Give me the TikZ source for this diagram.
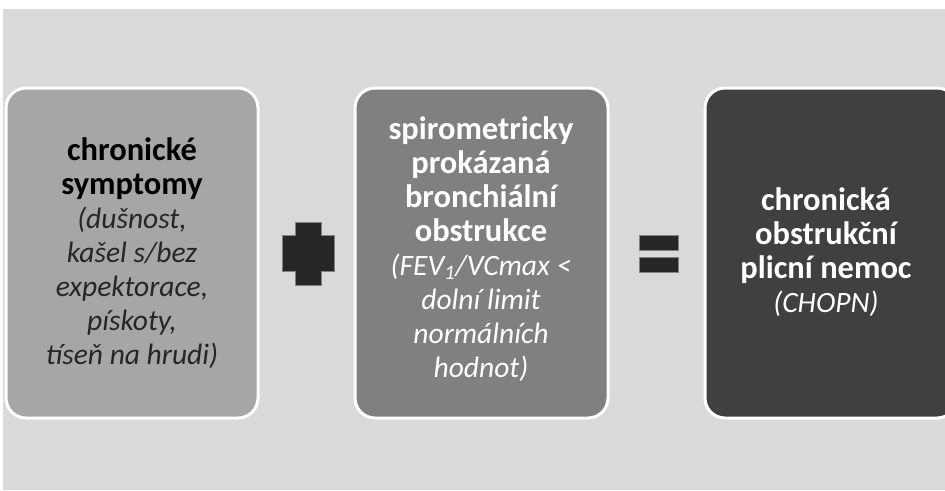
\documentclass[tikz,border=0pt]{standalone}
\usepackage{fontspec}
\setmainfont{Carlito}
\usetikzlibrary{positioning}
\definecolor{slidegray}{HTML}{D9D9D9}
\definecolor{lightcard}{HTML}{A6A6A6}
\definecolor{midcard}{HTML}{808080}
\definecolor{darkcard}{HTML}{404040}
\definecolor{signgray}{HTML}{262626}
\newcommand{\headln}[1]{{\fontsize{32.5}{34}\selectfont\bfseries #1}}
\newcommand{\noteln}[1]{{\fontsize{29.5}{34}\selectfont\itshape #1}}
\tikzset{
  card/.style={rounded corners=20pt, draw=white, line width=3pt},
  sign/.style={fill=signgray, draw=black!50, line width=0.6pt},
  cardtext/.style={align=center, anchor=base, inner sep=0pt,
    font=\fontsize{32}{34}\selectfont}
}

\begin{document}
\begin{tikzpicture}[x=1pt,y=-1pt]
		%%%%% START %%%%%
		\useasboundingbox (0,0) rectangle (945,490);
		\fill[white] (0,0) rectangle (945,490);
		\fill[slidegray] (3,9) rectangle (945,490);
		
		% the three cards
		\draw[card, fill=lightcard] (6,88) rectangle (258,418);
		\draw[card, fill=midcard] (355,88) rectangle (608,418);
		\draw[card, fill=darkcard] (705,88) rectangle (957,418);
		
		% anchor=base sits on the last line
		\node[cardtext, text=black] (symptoms) at (132,364)
			{\headln{chronické}\\\headln{symptomy}\\
			\noteln{\color{black!85}(dušnost,}\\\noteln{\color{black!85}kašel s/bez}\\
			\noteln{\color{black!85}expektorace,}\\\noteln{\color{black!85}pískoty,}\\
			\noteln{\color{black!85}tíseň na hrudi)}};
		
		\node[cardtext, text=white] (obstruction) at (481,377)
			{\headln{spirometricky}\\\headln{prokázaná}\\\headln{bronchiální}\\
			\headln{obstrukce}\\\noteln{(FEV\textsubscript{1}/VCmax <}\\
			\noteln{dolní limit}\\\noteln{normálních}\\\noteln{hodnot)}};
		
		\node[cardtext, text=white] (copd) at (826,312)
			{\headln{chronická}\\\headln{obstrukční}\\\headln{plicní nemoc}\\
			\noteln{(CHOPN)}};
		
		% plus
		\draw[sign] (295,222) -- (321,222) -- (321,235) -- (334,235) -- (334,271)
			-- (321,271) -- (321,285) -- (295,285) -- (295,271) -- (282,271)
			-- (282,235) -- (295,235) -- cycle;
		
		% equals
		\draw[sign] (639,235) rectangle (678,250);
		\draw[sign] (639,257) rectangle (678,272);
		%%%%% END %%%%%
	\end{tikzpicture}
\end{document}
